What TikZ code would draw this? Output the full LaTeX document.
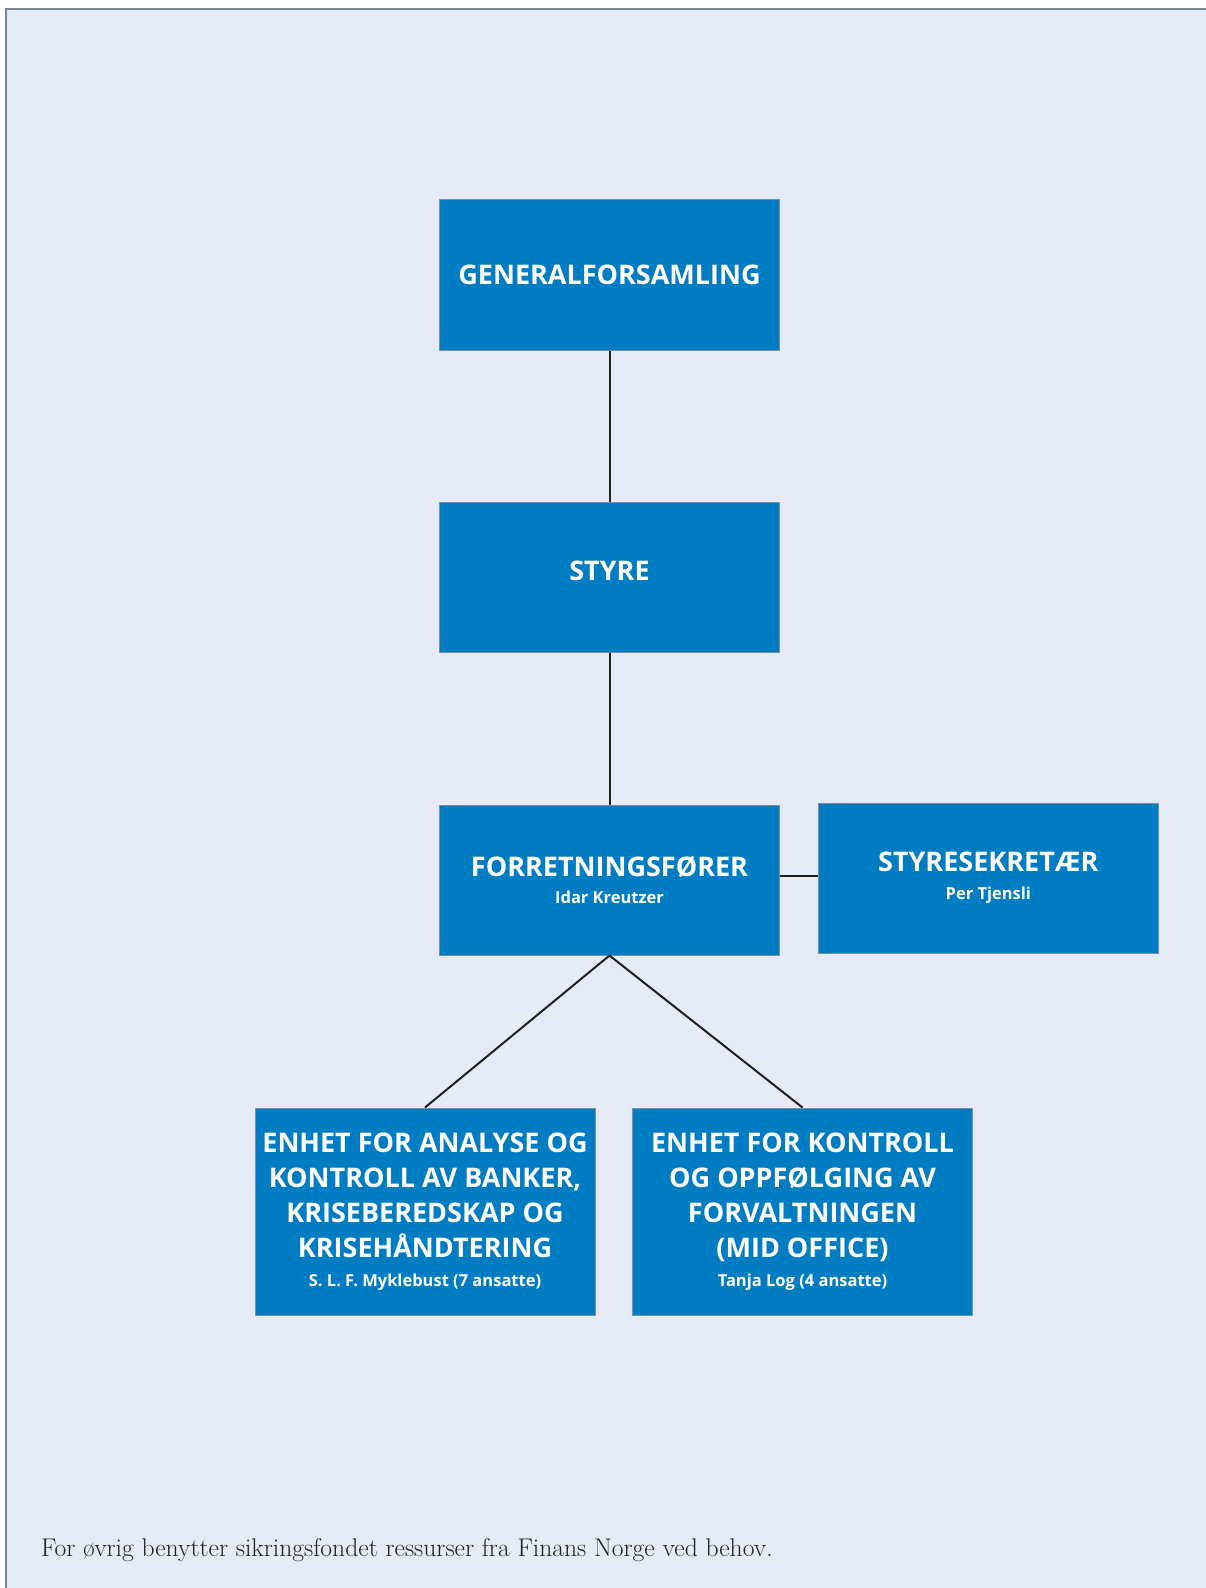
\documentclass[tikz,border=0pt]{standalone}
\usepackage{fontspec}
\newfontfamily\boxfont{Open Sans}
\definecolor{bgblue}{RGB}{228,235,246}
\definecolor{boxblue}{RGB}{0,124,195}
\definecolor{boxedge}{RGB}{124,141,166}
\definecolor{frameedge}{RGB}{118,130,150}
\definecolor{linecol}{RGB}{35,31,32}
\newcommand{\hdsize}{\fontsize{27}{34.8}\selectfont}
\newcommand{\subsize}{\fontsize{16.5}{20}\selectfont}
\tikzset{
  orgbox/.style={draw=boxedge, line width=1pt, fill=boxblue, text=white,
    minimum width=340pt, inner sep=0pt, align=center,
    font=\boxfont\bfseries\hdsize},
  conn/.style={draw=linecol, line width=2pt},
}
\begin{document}
\begin{tikzpicture}[x=1pt,y=-1pt]
\useasboundingbox (0,0) rectangle (1206,1588);
\fill[white] (0,0) rectangle (1206,1588);
\fill[bgblue] (6,9) rectangle (1206,1588);
\draw[frameedge, line width=1.5pt] (6,1588) -- (6,9) -- (1206,9);

\node[orgbox, minimum height=151pt] (g) at (609.5,275) {GENERALFORSAMLING};
\node[orgbox, minimum height=150pt, text depth=12pt] (s) at (609.5,577) {STYRE};
\node[orgbox, minimum height=150pt, font=\boxfont\bfseries\fontsize{27}{27}\selectfont] (f) at (609.5,880)
  {FORRETNINGSFØRER\\{\subsize Idar Kreutzer}};
\node[orgbox, minimum height=150pt, font=\boxfont\bfseries\fontsize{27}{28}\selectfont] (sk) at (988.3,878)
  {STYRESEKRETÆR\\{\subsize Per Tjensli}};
\node[orgbox, minimum height=207pt] (a) at (425,1211.5)
  {ENHET FOR ANALYSE OG\\KONTROLL AV BANKER,\\KRISEBEREDSKAP OG\\KRISEHÅNDTERING\\[-5.8pt]{\subsize S. L. F. Myklebust (7 ansatte)}};
\node[orgbox, minimum height=207pt] (k) at (802.5,1211.5)
  {ENHET FOR KONTROLL\\OG OPPFØLGING AV\\FORVALTNINGEN\\(MID OFFICE)\\[-5.8pt]{\subsize Tanja Log (4 ansatte)}};

\draw[conn] (g.south) -- (s.north);
\draw[conn] (s.south) -- (f.north);
\draw[conn] ([yshift=4pt]f.east) -- ([yshift=2pt]sk.west);
\draw[conn] (f.south) -- (a.north);
\draw[conn] (f.south) -- (k.north);

\node[anchor=base west, inner sep=0pt, text=linecol, font=\fontsize{25.6}{30}\selectfont] (foot) at (41,1556.5)
  {For øvrig benytter sikringsfondet ressurser fra Finans Norge ved behov.};
\end{tikzpicture}
\end{document}
